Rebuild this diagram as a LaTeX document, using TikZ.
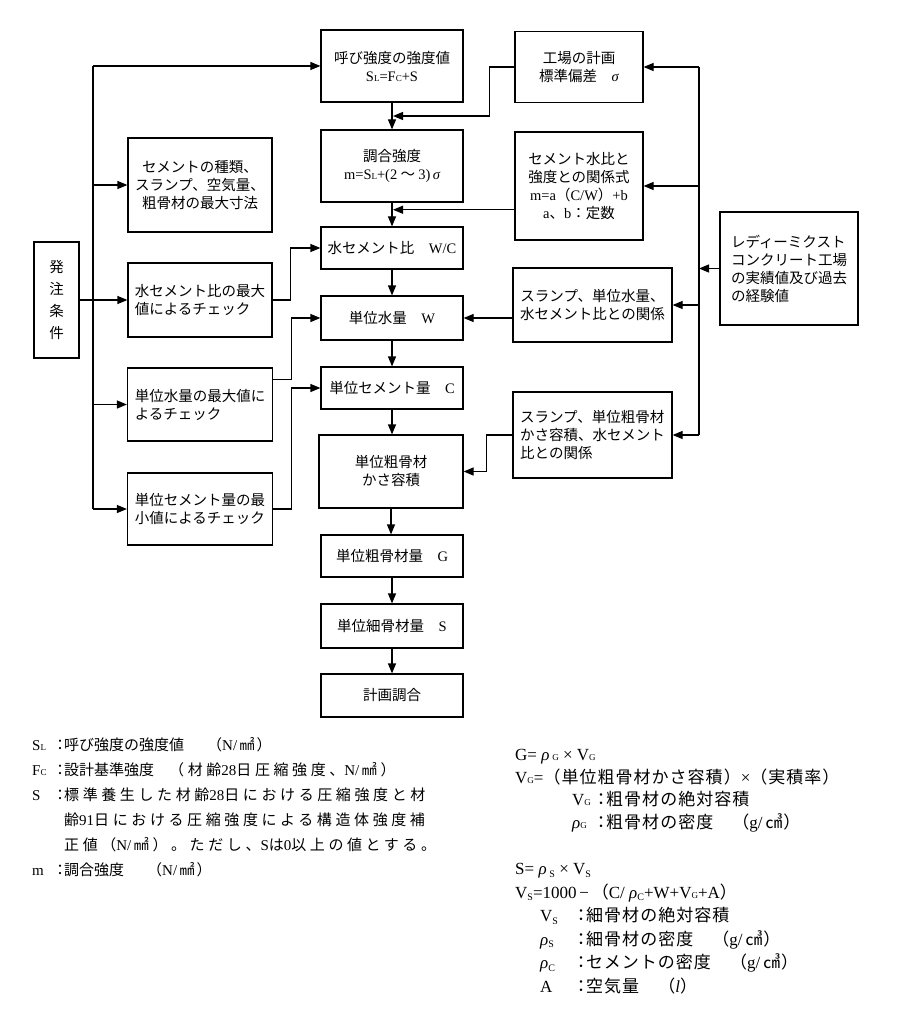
\documentclass[tikz,border=0pt]{standalone}
\usepackage{fontspec}
\setmainfont{Liberation Serif}
\newfontfamily\jp{Noto Sans CJK JP}
\newfontfamily\jpw[LetterSpace=24]{Noto Sans CJK JP}
\newfontfamily\jpf[LetterSpace=6]{Noto Sans CJK JP}
\usetikzlibrary{arrows.meta, calc}

\newcommand\lat[1]{{\rmfamily #1}}
\newcommand\smc[1]{{\fontsize{9}{9}\selectfont #1}}
\newcommand\low[1]{\raisebox{-2.5pt}{\fontsize{10}{10}\selectfont #1}}
\newcommand\colo{\makebox[8pt][c]{：}}
\newcommand\colr{\makebox[10pt][c]{：}}

\begin{document}
\begin{tikzpicture}[x=1pt, y=-1pt,
  box/.style={draw, line width=1.2pt, inner sep=2pt, align=center, font=\jp\fontsize{14.5}{18}\selectfont},
  arr/.style={line width=1.2pt, -{Triangle[length=10pt, width=8pt]}},
  ln/.style={line width=1.2pt},
  note/.style={inner sep=0pt, anchor=north west, align=left}]
\fill[white] (0,0) rectangle (900,1024);
\useasboundingbox (0,0) rectangle (900,1024);

% main column
\node[box, minimum width=142, minimum height=72] (yobi) at (392,66) {呼び強度の強度値\\\lat{S\smc{L}=F\smc{C}+S}};
\node[box, minimum width=142, minimum height=72] (chogo) at (392,166) {調合強度\\\lat{m=S\smc{L}+(2} ～ \lat{3)\,{\itshape σ}}};
\node[box, minimum width=142, minimum height=42] (wc) at (392,248) {水セメント比　\lat{W/C}};
\node[box, minimum width=142, minimum height=44] (w) at (392,318) {単位水量　\lat{W}};
\node[box, minimum width=142, minimum height=42] (c) at (392,388) {単位セメント量　\lat{C}};
\node[box, minimum width=144, minimum height=73] (kasa) at (391,471.5) {単位粗骨材\\かさ容積};
\node[box, minimum width=142, minimum height=42] (g) at (392,556) {単位粗骨材量　\lat{G}};
\node[box, minimum width=142, minimum height=44] (s) at (392,626) {単位細骨材量　\lat{S}};
\node[box, minimum width=142, minimum height=43] (plan) at (392,695.5) {計画調合};

% right side
\node[box, minimum width=128, minimum height=71] (fac) at (579,67) {工場の計画\\標準偏差　\lat{\itshape σ}};
\node[box, minimum width=128, minimum height=108] (rel) at (579,186) {セメント水比と\\強度との関係式\\\lat{m=a}（\lat{C/W}）\lat{+b}\\\lat{a}、\lat{b}：定数};
\node[box, minimum width=159, minimum height=74] (slw) at (592.5,305) {スランプ、単位水量、\\水セメント比との関係};
\node[box, minimum width=159, minimum height=86, align=left] (slg) at (592.5,435) {スランプ、単位粗骨材\\かさ容積、水セメント\\比との関係};
\node[box, minimum width=138, minimum height=113, align=left] (rmc) at (789,268.5) {レディーミクスト\\コンクリート工場\\の実績値及び過去\\の経験値};

% left side
\node[box, minimum width=45, minimum height=116, font=\jp\fontsize{14.5}{22}\selectfont] (order) at (56.5,300) {発\\注\\条\\件};
\node[box, minimum width=144, minimum height=94] (kind) at (200,185) {セメントの種類、\\スランプ、空気量、\\粗骨材の最大寸法};
\node[box, minimum width=144, minimum height=74, align=left] (chk1) at (200,300) {水セメント比の最大\\値によるチェック};
\node[box, minimum width=145, minimum height=73, align=left] (chk2) at (200,404.5) {単位水量の最大値に\\よるチェック};
\node[box, minimum width=145, minimum height=72, align=left] (chk3) at (200,509) {単位セメント量の最\\小値によるチェック};

\coordinate (lt) at (93,0);
\coordinate (rt) at (699,0);
\coordinate (j1) at ($(yobi.south)!0.5!(chogo.north)+(1,0)$);
\coordinate (j2) at ($(chogo.south)!0.3!(wc.north)+(1,0)$);

\foreach \a/\b in {yobi/chogo, chogo/wc, wc/w, w/c, c/kasa, kasa/g, g/s, s/plan}
  \draw[arr] (\a.south) -- (\a.south |- \b.north);

% order conditions
\draw[ln] (yobi.west -| lt) -- (chk3.west -| lt);
\foreach \n in {yobi, kind, chk2, chk3}
  \draw[arr] (\n.west -| lt) -- (\n.west);
\draw[arr] (order.east) -- (chk1.west);
\draw[arr] (chk1.east) -- ++(18,0) |- (wc.west);
\draw[arr] ([yshift=-12pt]chk2.north east) -- ++(18,0) |- (w.west);
\draw[arr] (chk3.east) -- ++(18,0) |- (c.west);

% plant data
\draw[ln] (fac.east -| rt) -- (slg.east -| rt);
\foreach \n in {fac, rel, slw, slg}
  \draw[arr] (\n.east -| rt) -- (\n.east);
\draw[arr] (rmc.west) -- (rmc.west -| rt);
\draw[arr] (fac.west) -- ++(-25,0) |- (j1);
\draw[arr] (rel.west |- j2) -- (j2);
\draw[arr] (slw.west |- w.east) -- (w.east);
\draw[arr] (slg.west) -- ++(-26,0) |- (kasa.east);

% notes
\node[note, font=\jp\fontsize{15}{25}\selectfont] (legend) at (32,737.5) {%
\makebox[24pt][l]{\lat{S\smc{L}}}\colo 呼び強度の強度値　\hspace{8pt}（\lat{N/\,}㎟\hspace{2pt}）\\
\makebox[24pt][l]{\lat{F\smc{C}}}\colo 設計基準強度　{\jpw（材齢\lat{28}日圧縮強度、\lat{N/\,}㎟）}\\
\makebox[24pt][l]{\lat{S}}\colo{\jpw 標準養生した材齢\lat{28}日における圧縮強度と材}\\
\hspace*{32pt}{\jpw 齢\lat{91}日における圧縮強度による構造体強度補}\\
\hspace*{32pt}{\jpw 正値（\lat{N/\,}㎟）。ただし、\lat{S}は\lat{0}以上の値とする。}\\
\makebox[24pt][l]{\lat{m}}\colo 調合強度　\hspace{8pt}（\lat{N/\,}㎟\hspace{2pt}）};

\node[note, font=\jpf\fontsize{17}{22.5}\selectfont] (gform) at (515,749.5) {%
\lat{G= {\itshape ρ}\,\smc{G} × V\smc{G}}\\
\lat{V\smc{G}=}（単位粗骨材かさ容積）\lat{×}（実積率）\\
\hspace*{57pt}\makebox[24pt][l]{\lat{V\smc{G}}}\colr 粗骨材の絶対容積\\
\hspace*{57pt}\makebox[24pt][l]{\lat{{\itshape ρ}\smc{G}}}\colr 粗骨材の密度　（\lat{g/\,}㎤）};

\node[note, font=\jpf\fontsize{17}{23.5}\selectfont] (sform) at (515,863.5) {%
\lat{S= {\itshape ρ}\,\low{S} × V\low{S}}\\
\lat{V\low{S}=1000\,−\,}（\lat{C/ {\itshape ρ}\low{C}+W+V\smc{G}+A}）\\
\hspace*{25pt}\makebox[36pt][l]{\lat{V\low{S}}}\colr 細骨材の絶対容積\\
\hspace*{25pt}\makebox[36pt][l]{\lat{{\itshape ρ}\low{S}}}\colr 細骨材の密度　（\lat{g/\,}㎤）\\
\hspace*{25pt}\makebox[36pt][l]{\lat{{\itshape ρ}\low{C}}}\colr セメントの密度　（\lat{g/\,}㎤）\\
\hspace*{25pt}\makebox[36pt][l]{\lat{A}}\colr 空気量　（\lat{\itshape l}）};
\end{tikzpicture}
\end{document}
